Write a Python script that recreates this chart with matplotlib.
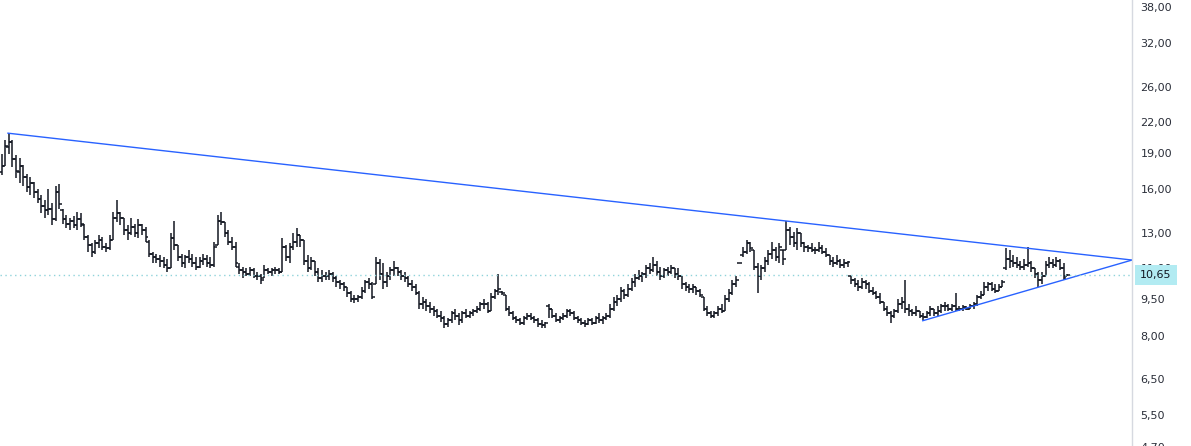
import numpy as np
import matplotlib
matplotlib.use("Agg")
import matplotlib.pyplot as plt

# Weekly OHLC bars (oldest first)
opens = [17.4, 17.9, 19.6, 20.0, 18.5, 17.4, 17.9, 17.0, 16.2, 16.5,
         15.8, 15.3, 14.8, 14.5, 14.6, 13.9, 15.8, 14.5, 13.9, 13.6,
         13.8, 13.5, 13.9, 13.5, 12.8, 12.3, 11.9, 12.4, 12.6, 12.2,
         12.1, 12.6, 14.0, 14.3, 14.0, 13.2, 13.0, 13.4, 13.0, 13.5,
         13.2, 12.5, 11.8, 11.6, 11.5, 11.4, 11.2, 11.0, 12.7, 12.3,
         11.6, 11.3, 11.6, 11.5, 11.3, 11.1, 11.4, 11.5, 11.3, 11.2,
         12.3, 13.8, 13.7, 13.0, 12.5, 12.2, 11.1, 10.9, 10.8, 10.7,
         10.9, 10.6, 10.6, 10.5, 10.9, 10.8, 10.9, 10.9, 10.8, 12.2,
         11.6, 12.2, 12.5, 12.9, 12.6, 11.4, 11.0, 11.4, 10.8, 10.5,
         10.6, 10.6, 10.7, 10.5, 10.3, 10.2, 10.1, 9.8, 9.5, 9.5,
         9.6, 9.9, 10.3, 10.2, 10.2, 11.3, 10.7, 10.3, 10.6, 10.9,
         11.0, 10.8, 10.6, 10.5, 10.2, 10.1, 9.8, 9.3, 9.4, 9.2,
         9.1, 9.0, 8.8, 8.7, 8.45, 8.6, 8.9, 8.8, 8.6, 8.9,
         8.8, 8.9, 9.0, 9.1, 9.3, 9.3, 9.0, 9.6, 9.9, 9.85,
         9.7, 9.1, 8.9, 8.7, 8.6, 8.5, 8.7, 8.8, 8.7, 8.6,
         8.45, 8.4, 9.2, 9.1, 8.8, 8.6, 8.7, 8.8, 9.0, 8.9,
         8.7, 8.6, 8.5, 8.45, 8.6, 8.5, 8.7, 8.6, 8.7, 8.8,
         9.1, 9.4, 9.5, 9.9, 9.7, 10.0, 10.3, 10.5, 10.6, 10.7,
         11.0, 10.9, 11.2, 10.8, 10.6, 10.9, 10.8, 11.0, 10.7, 10.6,
         10.2, 10.1, 10.0, 10.1, 9.9, 9.6, 9.1, 8.9, 8.8, 8.9,
         9.1, 9.0, 9.5, 9.8, 10.2, 11.3, 11.7, 11.9, 12.4, 12.0,
         11.1, 10.6, 11.0, 11.4, 11.8, 12.0, 11.6, 12.0, 12.0, 13.2,
         12.8, 12.4, 13.0, 12.4, 12.2, 12.1, 12.0, 12.0, 12.1, 11.9,
         11.7, 11.4, 11.3, 11.4, 11.2, 11.3, 10.6, 10.4, 10.2, 10.1,
         10.3, 10.2, 9.9, 9.8, 9.6, 9.4, 9.1, 8.9, 8.8, 9.0,
         9.3, 9.4, 9.1, 9.0, 8.9, 9.0, 8.8, 8.75, 8.9, 9.1,
         8.9, 9.0, 9.2, 9.2, 9.1, 9.2, 9.1, 9.1, 9.15, 9.1,
         9.2, 9.3, 9.6, 9.7, 10.1, 10.2, 10.0, 9.9, 10.1, 11.0,
         11.5, 11.4, 11.3, 11.2, 11.1, 11.2, 11.3, 11.0, 10.7, 10.4,
         10.6, 11.2, 11.3, 11.2, 11.4, 11.0, 10.6]
highs = [18.9, 20.2, 20.9, 20.2, 18.8, 18.6, 18.0, 17.2, 17.0, 16.6,
         16.0, 15.6, 15.2, 16.0, 15.0, 16.3, 16.4, 14.6, 14.2, 14.0,
         14.1, 14.4, 14.3, 13.6, 12.9, 12.4, 12.6, 12.9, 12.8, 12.4,
         12.9, 14.4, 15.2, 14.4, 14.0, 13.5, 14.0, 13.6, 13.9, 13.6,
         13.4, 12.6, 11.9, 11.8, 11.7, 11.6, 11.5, 13.0, 13.8, 12.3,
         11.8, 11.7, 12.0, 11.8, 11.6, 11.6, 11.8, 11.7, 11.6, 12.5,
         14.2, 14.4, 13.7, 13.2, 12.8, 12.5, 11.3, 11.1, 11.0, 11.1,
         11.0, 10.8, 10.7, 11.2, 11.0, 11.0, 11.1, 11.0, 12.7, 12.3,
         12.4, 13.0, 13.3, 12.9, 12.6, 11.7, 11.6, 11.4, 11.0, 10.9,
         10.8, 10.9, 10.8, 10.6, 10.4, 10.3, 10.1, 9.9, 9.7, 9.7,
         10.1, 10.4, 10.5, 10.3, 11.6, 11.5, 11.3, 10.8, 11.1, 11.4,
         11.1, 10.9, 10.8, 10.6, 10.4, 10.2, 9.9, 9.6, 9.5, 9.4,
         9.2, 9.1, 9.0, 8.8, 8.7, 9.0, 9.1, 8.9, 9.0, 9.1,
         9.0, 9.1, 9.2, 9.4, 9.5, 9.4, 9.8, 10.0, 10.7, 9.9,
         9.7, 9.2, 9.0, 8.8, 8.7, 8.8, 8.9, 8.9, 8.8, 8.7,
         8.6, 8.55, 9.3, 9.1, 8.9, 8.8, 8.9, 9.1, 9.1, 9.0,
         8.8, 8.7, 8.6, 8.7, 8.7, 8.8, 8.9, 8.8, 8.9, 9.3,
         9.6, 9.7, 10.1, 10.0, 10.2, 10.5, 10.7, 10.9, 10.8, 11.2,
         11.3, 11.6, 11.4, 11.1, 11.0, 11.1, 11.2, 11.0, 11.0, 10.6,
         10.3, 10.2, 10.2, 10.1, 10.0, 9.6, 9.2, 9.0, 9.0, 9.2,
         9.3, 9.7, 10.0, 10.4, 10.6, 11.3, 12.2, 12.6, 12.5, 12.0,
         11.3, 11.2, 11.6, 12.0, 12.5, 12.2, 12.4, 12.0, 13.8, 13.4,
         13.1, 13.3, 13.0, 12.5, 12.3, 12.4, 12.2, 12.5, 12.3, 12.1,
         11.7, 11.6, 11.7, 11.5, 11.5, 11.4, 10.6, 10.5, 10.4, 10.5,
         10.4, 10.3, 10.1, 9.9, 9.8, 9.4, 9.2, 9.0, 9.1, 9.5,
         9.6, 10.4, 9.3, 9.1, 9.2, 9.0, 8.9, 9.0, 9.2, 9.1,
         9.2, 9.3, 9.4, 9.3, 9.3, 9.8, 9.2, 9.25, 9.2, 9.3,
         9.4, 9.7, 9.9, 10.3, 10.3, 10.3, 10.2, 10.2, 10.4, 12.1,
         12.0, 11.7, 11.6, 11.4, 11.5, 12.2, 11.4, 11.0, 10.8, 10.8,
         11.4, 11.6, 11.5, 11.6, 11.5, 11.3, 10.7]
lows = [17.1, 17.9, 18.9, 17.8, 16.9, 16.5, 16.3, 15.8, 15.6, 15.4,
        15.0, 14.3, 14.0, 14.2, 13.5, 13.8, 14.6, 13.6, 13.3, 13.2,
        13.3, 13.2, 13.4, 12.6, 11.9, 11.6, 11.8, 12.1, 12.0, 11.9,
        12.0, 12.6, 13.7, 13.5, 12.9, 12.6, 12.9, 12.8, 12.7, 12.9,
        12.5, 11.6, 11.3, 11.3, 11.1, 11.0, 10.8, 11.0, 12.0, 11.4,
        11.1, 11.0, 11.3, 11.1, 10.9, 11.0, 11.2, 11.1, 11.0, 11.1,
        12.3, 13.5, 12.8, 12.3, 12.0, 11.1, 10.7, 10.5, 10.6, 10.6,
        10.5, 10.4, 10.2, 10.5, 10.7, 10.6, 10.7, 10.7, 10.8, 11.4,
        11.3, 12.0, 12.2, 12.2, 11.2, 10.8, 10.9, 10.6, 10.3, 10.3,
        10.4, 10.4, 10.3, 10.1, 10.0, 9.9, 9.6, 9.4, 9.35, 9.4,
        9.5, 9.8, 10.0, 9.5, 10.2, 10.4, 10.0, 10.1, 10.4, 10.6,
        10.6, 10.4, 10.3, 10.1, 9.9, 9.7, 9.1, 9.1, 9.0, 8.9,
        8.8, 8.7, 8.55, 8.3, 8.35, 8.5, 8.6, 8.4, 8.5, 8.7,
        8.7, 8.8, 8.9, 9.0, 9.1, 8.9, 9.0, 9.5, 9.7, 9.7,
        9.0, 8.8, 8.6, 8.5, 8.4, 8.4, 8.6, 8.6, 8.5, 8.35,
        8.3, 8.3, 8.7, 8.7, 8.55, 8.5, 8.6, 8.7, 8.8, 8.6,
        8.5, 8.4, 8.35, 8.4, 8.4, 8.45, 8.5, 8.45, 8.6, 8.7,
        9.0, 9.2, 9.4, 9.5, 9.6, 9.9, 10.1, 10.4, 10.3, 10.5,
        10.7, 10.8, 10.6, 10.4, 10.5, 10.6, 10.7, 10.5, 10.4, 10.0,
        9.9, 9.8, 9.8, 9.7, 9.6, 9.0, 8.8, 8.7, 8.7, 8.8,
        8.9, 9.0, 9.4, 9.7, 10.1, 11.3, 11.6, 11.8, 11.9, 10.9,
        9.8, 10.4, 10.8, 11.2, 11.5, 11.4, 11.3, 11.2, 12.0, 12.3,
        12.2, 12.0, 12.2, 11.9, 11.9, 11.9, 11.8, 11.9, 11.8, 11.6,
        11.2, 11.1, 11.2, 11.0, 11.0, 11.1, 10.2, 10.1, 9.9, 10.0,
        10.0, 9.8, 9.7, 9.5, 9.3, 9.0, 8.8, 8.5, 8.7, 8.9,
        9.1, 8.9, 8.8, 8.8, 8.8, 8.7, 8.6, 8.7, 8.8, 8.8,
        8.8, 8.9, 9.0, 9.0, 9.0, 9.0, 9.0, 9.0, 9.05, 9.1,
        9.1, 9.2, 9.5, 9.7, 9.9, 9.9, 9.8, 9.9, 10.1, 10.9,
        11.0, 11.1, 11.0, 10.9, 10.9, 11.1, 10.8, 10.5, 10.1, 10.2,
        10.6, 11.0, 11.0, 11.1, 10.9, 10.4, 10.6]
closes = [17.9, 19.7, 20.0, 18.5, 17.5, 17.9, 17.0, 16.2, 16.5, 15.8,
          15.3, 14.8, 14.5, 14.6, 13.9, 15.8, 14.9, 13.9, 13.6, 13.8,
          13.5, 13.9, 13.6, 12.8, 12.3, 11.9, 12.4, 12.6, 12.2, 12.1,
          12.6, 14.0, 14.3, 14.0, 13.2, 13.0, 13.4, 13.0, 13.5, 13.2,
          12.8, 11.8, 11.6, 11.5, 11.4, 11.2, 11.0, 12.7, 12.3, 11.6,
          11.3, 11.6, 11.5, 11.3, 11.1, 11.4, 11.5, 11.3, 11.2, 12.2,
          13.8, 13.7, 13.0, 12.5, 12.2, 11.3, 10.9, 10.8, 10.7, 10.9,
          10.6, 10.6, 10.4, 10.9, 10.8, 10.9, 10.9, 10.8, 12.2, 11.6,
          12.2, 12.5, 12.9, 12.6, 11.4, 11.0, 11.4, 10.8, 10.5, 10.6,
          10.6, 10.7, 10.5, 10.3, 10.2, 10.1, 9.8, 9.5, 9.5, 9.6,
          9.9, 10.3, 10.2, 9.6, 11.3, 10.7, 10.3, 10.6, 10.9, 11.0,
          10.8, 10.6, 10.5, 10.2, 10.1, 9.8, 9.3, 9.4, 9.2, 9.1,
          9.0, 8.8, 8.7, 8.45, 8.6, 8.9, 8.8, 8.6, 8.9, 8.8,
          8.9, 9.0, 9.1, 9.3, 9.3, 9.0, 9.6, 9.9, 10.0, 9.8,
          9.1, 8.9, 8.7, 8.6, 8.5, 8.7, 8.8, 8.7, 8.6, 8.45,
          8.4, 8.5, 9.1, 8.8, 8.6, 8.7, 8.8, 9.0, 8.9, 8.7,
          8.6, 8.5, 8.45, 8.6, 8.5, 8.7, 8.6, 8.7, 8.8, 9.1,
          9.4, 9.5, 9.9, 9.7, 10.0, 10.3, 10.5, 10.6, 10.7, 11.0,
          10.9, 11.2, 10.8, 10.6, 10.9, 10.8, 11.0, 10.7, 10.6, 10.2,
          10.1, 10.0, 10.1, 9.9, 9.7, 9.1, 8.9, 8.8, 8.9, 9.1,
          9.0, 9.5, 9.8, 10.2, 10.4, 11.3, 11.9, 12.4, 12.1, 11.1,
          10.6, 11.0, 11.4, 11.8, 12.0, 11.6, 12.2, 11.5, 13.2, 12.8,
          12.4, 13.0, 12.4, 12.2, 12.1, 12.0, 12.0, 12.1, 11.9, 11.7,
          11.4, 11.3, 11.4, 11.2, 11.3, 11.35, 10.4, 10.2, 10.1, 10.3,
          10.2, 9.9, 9.8, 9.6, 9.4, 9.1, 8.9, 8.8, 9.0, 9.3,
          9.4, 9.1, 9.0, 8.9, 9.0, 8.8, 8.75, 8.9, 9.1, 8.9,
          9.0, 9.2, 9.2, 9.1, 9.2, 9.1, 9.1, 9.15, 9.1, 9.2,
          9.3, 9.6, 9.7, 10.1, 10.2, 10.0, 9.9, 10.1, 10.3, 11.5,
          11.4, 11.3, 11.2, 11.1, 11.2, 11.3, 11.0, 10.7, 10.4, 10.6,
          11.2, 11.3, 11.2, 11.4, 11.0, 10.5, 10.65]

last_price = 10.65
last_label = "10,65"

# price axis labels (right side, log scale)
tick_values = [38, 32, 26, 22, 19, 16, 13, 11, 9.5, 8, 6.5, 5.5]
tick_labels = ["38,00", "32,00", "26,00", "22,00", "19,00", "16,00",
               "13,00", "11,00", "9,50", "8,00", "6,50", "5,50"]
cut_value, cut_label = 4.7, "4,70"

# hand drawn trend lines (bar index, price)
upper_x, upper_y = [1.6, 314.0], [20.9, 11.45]
lower_x, lower_y = [255.7, 314.0], [8.58, 11.45]

n = len(closes)
assert len(opens) == n and len(highs) == n and len(lows) == n
x = np.arange(n)

fig = plt.figure(figsize=(11.91, 4.46), dpi=100)
ax = fig.add_axes([0, 0, 1132 / 1191, 1])
ax.set_yscale("log")
ax.set_ylim(4.742, 39.28)
ax.set_xlim(-0.42, 314.0)

# OHLC bars
bar_col = "#131722"
ax.vlines(x, lows, highs, color=bar_col, lw=1.1)
ax.hlines(opens, x - 0.8, x, color=bar_col, lw=1.1)
ax.hlines(closes, x, x + 0.8, color=bar_col, lw=1.1)

# trend lines
ax.plot(upper_x, upper_y, color="#2962ff", lw=1.0, solid_capstyle="butt")
ax.plot(lower_x, lower_y, color="#2962ff", lw=1.0, solid_capstyle="butt")

# last price line
ax.axhline(last_price, color="#8fd3da", lw=1.0, ls=(0, (1, 2.5)))

for side in ["left", "top", "bottom"]:
    ax.spines[side].set_visible(False)
ax.spines["right"].set_color("#d6d9e0")
ax.spines["right"].set_linewidth(1.0)

ax.set_xticks([])
ax.yaxis.tick_right()
ax.set_yticks(tick_values)
ax.set_yticklabels(tick_labels)
ax.yaxis.set_minor_locator(matplotlib.ticker.NullLocator())
ax.tick_params(axis="y", length=0, pad=6, labelsize=8, labelcolor="#2a2e39")

ytr = ax.get_yaxis_transform()
ax.annotate(cut_label, xy=(1, cut_value), xycoords=ytr, xytext=(8, 0),
            textcoords="offset pixels", ha="left", va="center", fontsize=8,
            color="#2a2e39", annotation_clip=False)
ax.annotate(last_label, xy=(1, last_price), xycoords=ytr, xytext=(8, 0),
            textcoords="offset pixels", ha="left", va="center", fontsize=8,
            color="#131722", annotation_clip=False, zorder=10,
            bbox=dict(boxstyle="square,pad=0.45", fc="#b2ebf2", ec="none"))

fig.savefig("out.png", dpi=100)
